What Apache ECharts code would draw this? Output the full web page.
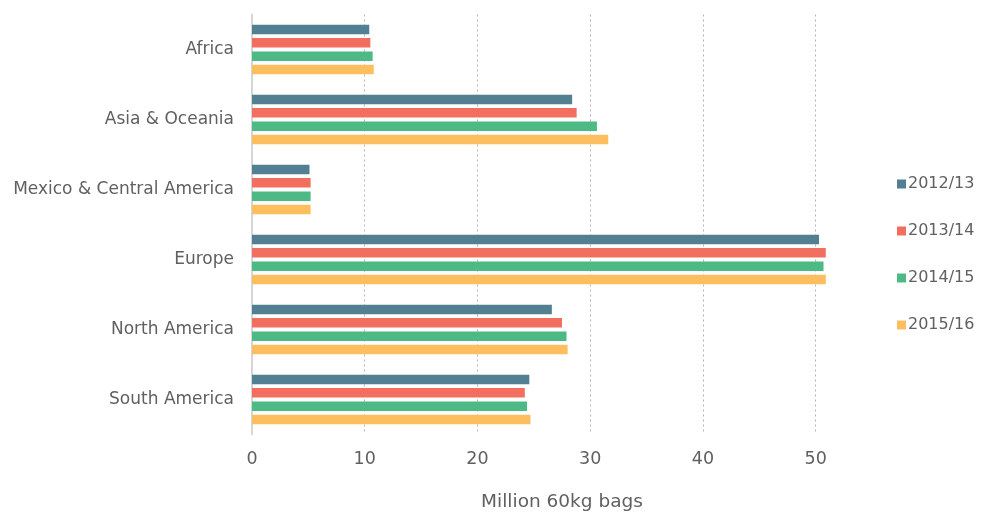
<!DOCTYPE html>
<html>
<head>
<meta charset="utf-8">
<script src="https://cdn.jsdelivr.net/npm/echarts@6/dist/echarts.min.js"></script>
<style>
  html, body { margin: 0; padding: 0; background: #fff; }
  #chart { width: 984px; height: 513px; }
</style>
</head>
<body>
<div id="chart"></div>
<script>
// Coffee consumption by region, million 60kg bags
const regions = ['Africa', 'Asia & Oceania', 'Mexico & Central America', 'Europe', 'North America', 'South America'];
const seasons = ['2012/13', '2013/14', '2014/15', '2015/16'];
const v2012 = [10.4, 28.4, 5.1, 50.3, 26.6, 24.6];
const v2013 = [10.5, 28.8, 5.2, 50.9, 27.5, 24.2];
const v2014 = [10.7, 30.6, 5.2, 50.7, 27.9, 24.4];
const v2015 = [10.8, 31.6, 5.2, 50.9, 28.0, 24.7];
const seriesValues = [v2012, v2013, v2014, v2015];
const colors = ['#537f92', '#f26f5f', '#4dba86', '#fcbe5e'];
const textColor = '#606060';

const chart = echarts.init(document.getElementById('chart'));

const series = seasons.map((name, i) => ({
  name: name,
  type: 'bar',
  data: seriesValues[i],
  barWidth: 9.5,
  barGap: '40%',
  itemStyle: { color: colors[i] },
  emphasis: { disabled: true }
}));

chart.setOption({
  animation: false,
  color: colors,
  textStyle: { fontFamily: 'DejaVu Sans, sans-serif' },
  grid: { left: 252, right: 112, top: 14.5, bottom: 78.5, containLabel: false, outerBoundsMode: 'none' },
  legend: {
    orient: 'vertical',
    left: 892,
    top: 171,
    itemWidth: 9,
    itemHeight: 9,
    itemGap: 31,
    icon: 'rect',
    textStyle: { color: textColor, fontSize: 16, padding: [0, 0, 0, -3] },
    data: seasons
  },
  xAxis: {
    type: 'value',
    min: 0,
    max: 55,
    interval: 10,
    name: 'Million 60kg bags',
    nameLocation: 'middle',
    nameGap: 58.5,
    nameTextStyle: { color: textColor, fontSize: 18.5 },
    axisLine: { show: false },
    axisTick: { show: false },
    axisLabel: { color: textColor, fontSize: 17.5, margin: 16, showMaxLabel: false },
    splitLine: {
      show: true,
      showMinLine: false,
      showMaxLine: false,
      lineStyle: { color: '#b5b5b5', type: [2, 3], width: 1 }
    }
  },
  yAxis: {
    type: 'category',
    data: regions,
    inverse: true,
    axisLine: { show: true, lineStyle: { color: '#c8c8c8', width: 1.5 } },
    axisTick: { show: false },
    axisLabel: { color: textColor, fontSize: 17, margin: 18 }
  },
  series: series
});
</script>
</body>
</html>
